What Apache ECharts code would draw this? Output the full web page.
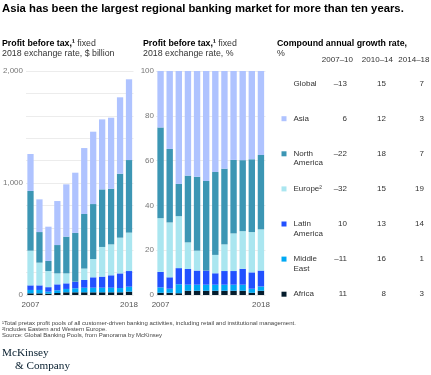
<!DOCTYPE html>
<html><head><meta charset="utf-8">
<script src="https://cdn.jsdelivr.net/npm/echarts@6/dist/echarts.min.js"></script>
<style>html,body{margin:0;padding:0;background:#fff}#c{width:431px;height:375px}</style>
</head><body><div id="c"></div>
<script>
// ---- data ----
const years = ['2007','2008','2009','2010','2011','2012','2013','2014','2015','2016','2017','2018'];
// profit before tax, $ billion (stack order bottom -> top)
const absAfrica  = [15, 15, 12, 18, 24, 24, 24, 24, 24, 24, 24, 30];
const absMidEast = [30, 30, 18, 24, 30, 36, 41, 41, 41, 41, 38, 44];
const absLatAm   = [41, 41, 40, 53, 50, 59, 69, 93, 99, 111, 131, 140];
const absEurope  = [310, 203, 144, 98, 89, 0, 102, 163, 265, 276, 319, 343];
const absNorthAm = [533, 273, 90, 253, 328, 435, 487, 491, 514, 497, 571, 648];
const absAsia    = [330, 292, 306, 393, 467, 538, 589, 646, 625, 634, 682, 721];
// profit before tax, % share
const pctAfrica  = [1.0, 1.0, 0.8, 1.9, 1.9, 1.9, 1.9, 1.9, 1.9, 1.9, 1.0, 1.9];
const pctMidEast = [2.4, 1.8, 4.0, 2.7, 2.7, 2.7, 2.7, 2.7, 2.7, 2.7, 1.8, 1.9];
const pctLatAm   = [6.9, 5.1, 7.2, 7.0, 6.3, 6.3, 5.1, 6.1, 6.1, 7.1, 7.3, 7.1];
const pctEurope  = [24.0, 24.5, 23.2, 11.9, 8.9, 0, 8.2, 11.9, 16.8, 16.8, 18.0, 18.4];
const pctNorthAm = [40.5, 32.8, 14.4, 29.8, 33.0, 40.0, 37.0, 33.8, 32.8, 31.7, 32.5, 33.2];
const pctAsia    = [25.2, 34.8, 50.4, 46.7, 47.2, 49.1, 45.1, 43.6, 39.7, 39.8, 39.4, 37.5];
// compound annual growth rate, %
const cagrPeriods = ['2007–10', '2010–14', '2014–18'];
const cagrLabels  = ['Global', 'Asia', 'North\nAmerica', 'Europe²', 'Latin\nAmerica', 'Middle\nEast', 'Africa'];
const cagrGlobal  = [-13, 15, 7];
const cagrAsia    = [6, 12, 3];
const cagrNorthAm = [-22, 18, 7];
const cagrEurope  = [-32, 15, 19];
const cagrLatAm   = [10, 13, 14];
const cagrMidEast = [-11, 16, 1];
const cagrAfrica  = [11, 8, 3];
const leftTicks = [0, 1000, 2000];

// ---- styling ----
const FONT = '"Liberation Sans", Arial, sans-serif';
const COL = {
  Asia: '#afc3ff', NorthAm: '#3c96b4', Europe: '#aae6f0',
  LatAm: '#2251ff', MidEast: '#00a9f4', Africa: '#051c2c'
};
const stackDefs = [
  ['Africa', absAfrica, pctAfrica],
  ['MidEast', absMidEast, pctMidEast],
  ['LatAm', absLatAm, pctLatAm],
  ['Europe', absEurope, pctEurope],
  ['NorthAm', absNorthAm, pctNorthAm],
  ['Asia', absAsia, pctAsia]
];
const rowColors = [null, COL.Asia, COL.NorthAm, COL.Europe, COL.LatAm, COL.MidEast, COL.Africa];
const rowValues = [cagrGlobal, cagrAsia, cagrNorthAm, cagrEurope, cagrLatAm, cagrMidEast, cagrAfrica];

const series = [];
stackDefs.forEach(([k, a, p]) => {
  series.push({type: 'bar', stack: 'abs', xAxisIndex: 0, yAxisIndex: 0, barWidth: '70%',
    itemStyle: {color: COL[k]}, data: a, silent: true});
  series.push({type: 'bar', stack: 'pct', xAxisIndex: 1, yAxisIndex: 1, barWidth: '70%',
    itemStyle: {color: COL[k]}, data: p, silent: true});
});

const fmtNum = v => (v < 0 ? '–' + Math.abs(v) : String(v));
const txt = (x, y, text, o = {}) => ({
  type: 'text', x, y, silent: true,
  style: Object.assign({text, font: (o.weight || 'normal') + ' ' + (o.size || 8) + 'px ' + FONT,
    fill: o.fill || '#333', textAlign: o.align || 'left', textVerticalAlign: o.va || 'middle',
    lineHeight: o.lh || 9.4}, o.extra || {})
});

const graphic = [];
graphic.push(txt(2, 8.5, 'Asia has been the largest regional banking market for more than ten years.',
  {weight: 'bold', size: 11.3, fill: '#000'}));
const rich = {
  b: {fontFamily: FONT, fontSize: 8.8, fontWeight: 'bold', fill: '#000', lineHeight: 9.8},
  r: {fontFamily: FONT, fontSize: 8.8, fill: '#333', lineHeight: 9.8}
};
graphic.push({type: 'text', x: 2, y: 39, silent: true, style: {
  text: '{b|Profit before tax,¹}{r| fixed}\n{r|2018 exchange rate, $ billion}', rich, textVerticalAlign: 'top'}});
graphic.push({type: 'text', x: 143, y: 39, silent: true, style: {
  text: '{b|Profit before tax,¹}{r| fixed}\n{r|2018 exchange rate, %}', rich, textVerticalAlign: 'top'}});
graphic.push({type: 'text', x: 277, y: 39, silent: true, style: {
  text: '{b|Compound annual growth rate,}\n{r|%}', rich, textVerticalAlign: 'top'}});

const colRight = [353, 393, 429.5];
const valRight = [347, 386, 424];
cagrPeriods.forEach((p, i) => graphic.push(txt(colRight[i], 59.5, p, {align: 'right'})));
cagrLabels.forEach((lab, r) => {
  const y = 83.5 + r * 35.1;
  graphic.push(txt(293.5, y - 4.7, lab, {va: 'top'}));
  if (rowColors[r]) graphic.push({type: 'rect', silent: true,
    shape: {x: 281.5, y: y - 2.4, width: 5, height: 5}, style: {fill: rowColors[r]}});
  rowValues[r].forEach((v, i) => graphic.push(txt(valRight[i], y, fmtNum(v), {align: 'right'})));
});

graphic.push(txt(2, 320.5, '¹Total pretax profit pools of all customer-driven banking activities, including retail and institutional management.\n²Includes Eastern and Western Europe.\nSource: Global Banking Pools, from Panorama by McKinsey',
  {size: 6, va: 'top', lh: 5.9, fill: '#444'}));
graphic.push(txt(2, 353, 'McKinsey', {fill: '#051c2c', extra: {font: '11.2px "Liberation Serif", "Times New Roman", serif'}}));
graphic.push(txt(15, 366.5, '& Company', {fill: '#051c2c', extra: {font: '11.2px "Liberation Serif", "Times New Roman", serif'}}));

const xAxisBase = (gi) => ({
  type: 'category', gridIndex: gi, data: years,
  axisLine: {show: false}, axisTick: {show: false},
  axisLabel: {interval: 0, margin: 6, fontSize: 8, fontFamily: FONT, color: '#555',
    formatter: (v, i) => (i === 0 || i === years.length - 1 ? v : '')}
});

const option = {
  animation: false,
  backgroundColor: '#fff',
  grid: [
    {left: 24, top: 71, width: 109.5, height: 224},
    {left: 156, top: 71, width: 109.5, height: 224}
  ],
  xAxis: [xAxisBase(0), xAxisBase(1)],
  yAxis: [
    {type: 'value', gridIndex: 0, min: 0, max: 2000, interval: 200,
      axisLine: {show: false}, axisTick: {show: false},
      splitLine: {lineStyle: {color: '#ececec', width: 1}},
      axisLabel: {margin: 3, fontSize: 8, fontFamily: FONT, color: '#777',
        formatter: v => (leftTicks.includes(v) ? v.toLocaleString('en-US') : '')}},
    {type: 'value', gridIndex: 1, min: 0, max: 100, interval: 20,
      axisLine: {show: false}, axisTick: {show: false},
      splitLine: {lineStyle: {color: '#ececec', width: 1}},
      axisLabel: {margin: 2, fontSize: 8, fontFamily: FONT, color: '#777'}}
  ],
  series,
  graphic
};
const chart = echarts.init(document.getElementById('c'), null, {renderer: 'canvas'});
chart.setOption(option);
</script></body></html>
